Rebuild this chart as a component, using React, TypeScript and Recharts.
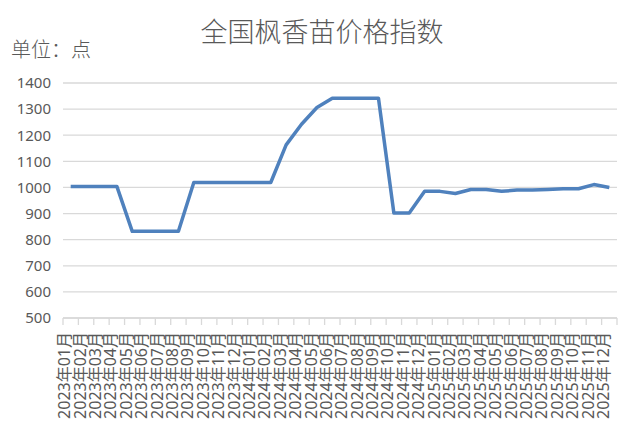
import { LineChart, Line, XAxis, YAxis, CartesianGrid } from 'recharts';

const months = [
  '2023年01月', '2023年02月', '2023年03月', '2023年04月', '2023年05月', '2023年06月',
  '2023年07月', '2023年08月', '2023年09月', '2023年10月', '2023年11月', '2023年12月',
  '2024年01月', '2024年02月', '2024年03月', '2024年04月', '2024年05月', '2024年06月',
  '2024年07月', '2024年08月', '2024年09月', '2024年10月', '2024年11月', '2024年12月',
  '2025年01月', '2025年02月', '2025年03月', '2025年04月', '2025年05月', '2025年06月',
  '2025年07月', '2025年08月', '2025年09月', '2025年10月', '2025年11月', '2025年12月',
];

const priceIndex = [
  1004, 1004, 1004, 1004, 832, 832, 832, 832, 1019, 1019, 1019, 1019,
  1019, 1019, 1163, 1242, 1306, 1342, 1342, 1342, 1342, 902, 902, 985,
  985, 977, 992, 992, 985, 990, 990, 992, 995, 995, 1011, 1000,
];

const yTicks = [500, 600, 700, 800, 900, 1000, 1100, 1200, 1300, 1400];

// x runs 0..n; each month sits at the middle of its slot
const data = months.map((m, i) => ({ x: i + 0.5, month: m, value: priceIndex[i] }));
const xTicks: number[] = [];
for (let i = 0; i <= months.length; i++) {
  xTicks.push(i);
  if (i < months.length) xTicks.push(i + 0.5);
}

const TEXT = '#595959';

function MonthTick(props: any) {
  const { x, y, payload } = props;
  const v = payload.value as number;
  if (Number.isInteger(v)) {
    return <line x1={x} y1={y} x2={x} y2={y + 7} stroke='#d9d9d9' strokeWidth={1.3} />;
  }
  const label = months[Math.floor(v)];
  const ax = x - 6;
  const ay = y + 14;
  return (
    <text
      x={ax}
      y={ay}
      dy='0.35em'
      textAnchor='end'
      transform={`rotate(-90, ${ax}, ${ay})`}
      fill={TEXT}
      fontSize={16}
      fontFamily='"Noto Sans", "Noto Sans CJK SC", sans-serif'
    >
      {label}
    </text>
  );
}

export default function App() {
  return (
    <div
      style={{
        position: 'absolute',
        left: 0,
        top: 0,
        width: 640,
        height: 432,
        background: '#fff',
        fontFamily: '"Noto Sans CJK SC", sans-serif',
      }}
    >
      <div
        style={{
          position: 'absolute',
          left: 2,
          top: 17,
          width: 640,
          textAlign: 'center',
          fontSize: 27,
          lineHeight: '27px',
          fontWeight: 300,
          color: TEXT,
        }}
      >
        全国枫香苗价格指数
      </div>
      <div
        style={{
          position: 'absolute',
          left: 11,
          top: 39,
          fontSize: 20,
          lineHeight: '20px',
          fontWeight: 300,
          color: TEXT,
        }}
      >
        单位：点
      </div>
      <LineChart
        width={640}
        height={432}
        data={data}
        margin={{ top: 83, right: 23, bottom: 0, left: 0 }}
      >
        <CartesianGrid vertical={false} stroke='#d9d9d9' strokeWidth={1.3} />
        <XAxis
          dataKey='x'
          type='number'
          domain={[0, months.length]}
          ticks={xTicks}
          interval={0}
          height={114}
          tickLine={false}
          tickSize={0}
          tickMargin={0}
          axisLine={{ stroke: '#d9d9d9', strokeWidth: 1.3 }}
          tick={<MonthTick />}
        />
        <YAxis
          domain={[500, 1400]}
          ticks={yTicks}
          interval={0}
          width={63}
          axisLine={false}
          tickLine={false}
          tickSize={0}
          tickMargin={12}
          tick={{ fill: TEXT, fontSize: 15, fontFamily: '"Noto Sans", sans-serif' }}
        />
        <Line
          type='linear'
          dataKey='value'
          stroke='#4f81bd'
          strokeWidth={3.5}
          strokeLinejoin='round'
          dot={false}
          activeDot={false}
          isAnimationActive={false}
        />
      </LineChart>
    </div>
  );
}
